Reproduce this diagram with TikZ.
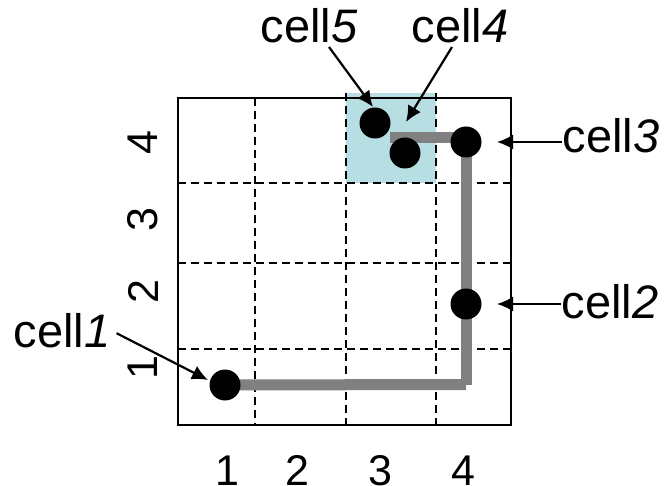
\documentclass[tikz,border=0pt]{standalone}
\usepackage{fontspec}
\setmainfont{Liberation Sans}
\usetikzlibrary{arrows.meta}
\definecolor{shadecell}{HTML}{B7DEE2}
\definecolor{pathgray}{HTML}{808080}
\begin{document}
\begin{tikzpicture}[x=1pt,y=-1pt,
  dot/.style={circle,fill=black,minimum size=31pt,inner sep=0pt},
  lbl/.style={font=\fontsize{47}{50}\selectfont,inner sep=0pt,anchor=base},
  num/.style={font=\fontsize{43}{46}\selectfont,inner sep=0pt},
  gridline/.style={line width=1.6pt,dash pattern=on 8pt off 5pt},
  frame/.style={line width=1.8pt},
  arr/.style={line width=2.2pt,-{Latex[length=16pt,width=15pt]}},
  route/.style={line width=11pt,draw=pathgray,line cap=butt}]
\useasboundingbox (0,0) rectangle (664,486);
% shaded cell
\fill[shadecell] (346,93) rectangle (436,183);
% dashed grid
\draw[gridline] (255,98) -- (255,425);
\draw[gridline] (346,93) -- (346,425);
\draw[gridline] (436,93) -- (436,425);
\draw[gridline] (178,183) -- (511,183);
\draw[gridline] (178,263) -- (511,263);
\draw[gridline] (178,349) -- (511,349);
% frame
\draw[frame] (178,98) rectangle (511,425);
% dot positions
\coordinate (p1) at (225,385);
\coordinate (p2) at (466,304);
\coordinate (p3) at (466,142);
\coordinate (p4) at (405,153);
\coordinate (p5) at (375,123);
\coordinate (k1) at (466,384.5);
\coordinate (k2) at (466,385);
\coordinate (k3) at (390,138);
% route
\draw[route] (p1) -- (k1);
\draw[route] (k2) -- (p3);
\draw[route] (p3 |- k3) -- (k3);
% dots
\node[dot] (c1) at (p1) {};
\node[dot] (c2) at (p2) {};
\node[dot] (c3) at (p3) {};
\node[dot] (c4) at (p4) {};
\node[dot] (c5) at (p5) {};
% labels
\node[lbl] (l5) at (309,43) {cell\textit{5}};
\node[lbl] (l4) at (460,43) {cell\textit{4}};
\node[lbl] (l3) at (611,153) {cell\textit{3}};
\node[lbl] (l2) at (610,319) {cell\textit{2}};
\node[lbl] (l1) at (62,347) {cell\textit{1}};
% axis numbers
\node[num,anchor=base] (b1) at (227,485) {1};
\node[num,anchor=base] (b2) at (297,485) {2};
\node[num,anchor=base] (b3) at (380,485) {3};
\node[num,anchor=base] (b4) at (463,485) {4};
\node[num,anchor=center,rotate=90] (r4) at (143,142.5) {4};
\node[num,anchor=center,rotate=90] (r3) at (143,220) {3};
\node[num,anchor=center,rotate=90] (r2) at (143,292) {2};
\node[num,anchor=center,rotate=90] (r1) at (143,368) {1};
% arrows
\coordinate (s5) at (329,47);
\coordinate (s4) at (452,47);
\coordinate (t5) at (373,107);
\coordinate (t4) at (406,122);
\coordinate (t3) at (497,142);
\coordinate (t2) at (497,304);
\coordinate (t1) at (208,380);
\draw[arr] (s5) -- (t5);
\draw[arr] (s4) -- (t4);
\draw[arr] (l3.west |- t3) -- (t3);
\draw[arr] (l2.west |- t2) -- (t2);
\draw[arr] ([xshift=6pt,yshift=-3pt]l1.east) -- (t1);
\end{tikzpicture}
\end{document}
